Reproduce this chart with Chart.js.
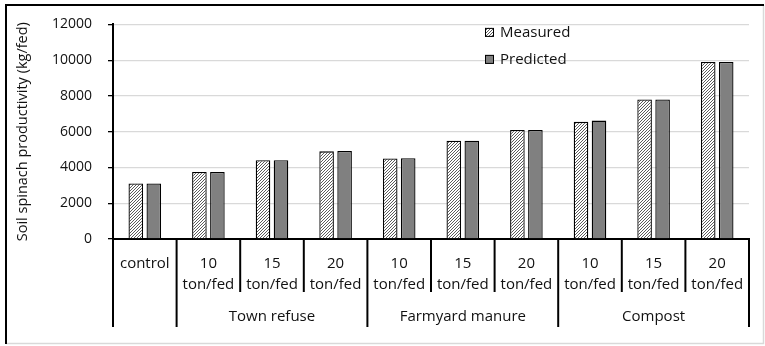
<!DOCTYPE html>
<html><head><meta charset="utf-8">
<script src="https://cdn.jsdelivr.net/npm/chart.js@4"></script>
<style>html,body{margin:0;padding:0;background:#fff;}#wrap{width:765px;height:346px;position:relative;}</style>
</head><body><div id="wrap"><canvas id="c" width="765" height="346"></canvas></div>
<script>
const categories = [['control'],['10','ton/fed'],['15','ton/fed'],['20','ton/fed'],['10','ton/fed'],['15','ton/fed'],['20','ton/fed'],['10','ton/fed'],['15','ton/fed'],['20','ton/fed']];
const groupNames = ['', 'Town refuse', 'Farmyard manure', 'Compost'];
const groupOf = [0,1,1,1,2,2,2,3,3,3];
const measured = [3100,3750,4400,4900,4500,5500,6100,6550,7800,9900];
const predicted = [3100,3750,4400,4920,4520,5500,6100,6620,7800,9900];
const yTicks = [0,2000,4000,6000,8000,10000,12000];
const seriesNames = ['Measured','Predicted'];
const yTitle = 'Soil spinach productivity (kg/fed)';

const FONT = '"Open Sans", "Noto Sans", sans-serif';
const TXT = '#111';

function hatch(){
  const s=3, c=document.createElement('canvas'); c.width=s; c.height=s;
  const x=c.getContext('2d'); x.fillStyle='#fff'; x.fillRect(0,0,s,s);
  x.strokeStyle='#4a4a4a'; x.lineWidth=0.9;
  x.beginPath();
  x.moveTo(0,s); x.lineTo(s,0);
  x.moveTo(-1,1); x.lineTo(1,-1);
  x.moveTo(s-1,s+1); x.lineTo(s+1,s-1);
  x.stroke();
  return x.createPattern(c,'repeat');
}
const pat = hatch();

const frame = {id:'frame', beforeDraw(chart){
  const c=chart.ctx; c.save();
  c.fillStyle='#fff'; c.fillRect(0,0,chart.width,chart.height);
  c.strokeStyle='#d9d9d9'; c.lineWidth=1.5;
  c.beginPath(); c.moveTo(763.5,5); c.lineTo(763.5,343.5); c.lineTo(6,343.5); c.stroke();
  c.strokeStyle='#000'; c.lineWidth=2;
  c.beginPath(); c.moveTo(6,344); c.lineTo(6,5); c.lineTo(764,5); c.stroke();
  c.restore();
}};

const decor = {id:'decor', afterDraw(chart){
  const c=chart.ctx, a=chart.chartArea, x=chart.scales.x;
  c.save();
  c.strokeStyle='#000'; c.lineWidth=2;
  const n=categories.length;
  for(let i=0;i<=n;i++){
    const px = i===0 ? x.left : (i===n ? x.right : (x.getPixelForValue(i-1)+x.getPixelForValue(i))/2);
    const major = i===0 || i===n || groupOf[i]!==groupOf[i-1];
    c.beginPath(); c.moveTo(px,a.bottom); c.lineTo(px,a.bottom+(major?88:53)); c.stroke();
  }
  c.font='15px '+FONT; c.fillStyle=TXT; c.textAlign='center'; c.textBaseline='middle';
  groupNames.forEach((g,gi)=>{
    if(!g) return;
    const idx=groupOf.map((v,i)=>v===gi?i:-1).filter(i=>i>=0);
    const cx=(x.getPixelForValue(idx[0])+x.getPixelForValue(idx[idx.length-1]))/2;
    c.fillText(g,cx,a.bottom+78);
  });
  // legend
  const lx=a.right-264, ly=[a.top+8, a.top+35];
  const fills=[pat,'#808080'];
  c.textAlign='left'; c.lineWidth=1;
  seriesNames.forEach((s,i)=>{
    c.fillStyle=fills[i]; c.fillRect(lx,ly[i]-4.5,9,9);
    c.strokeStyle='#000'; c.strokeRect(lx+0.5,ly[i]-4,8,8);
    c.fillStyle=TXT; c.fillText(s,lx+15,ly[i]);
  });
  c.restore();
}};

new Chart(document.getElementById('c'), {
  type:'bar',
  data:{labels:categories, datasets:[
    {label:seriesNames[0], data:measured, backgroundColor:pat, borderColor:'#000', borderWidth:1.3, categoryPercentage:0.566, barPercentage:0.81},
    {label:seriesNames[1], data:predicted, backgroundColor:'#808080', borderColor:'#000', borderWidth:1.3, categoryPercentage:0.566, barPercentage:0.81}
  ]},
  options:{
    responsive:false, animation:false, devicePixelRatio:1,
    layout:{padding:{left:0, top:24, right:16, bottom:0}},
    plugins:{legend:{display:false}, tooltip:{enabled:false}},
    scales:{
      x:{
        grid:{display:false},
        border:{display:true, color:'#000', width:2},
        ticks:{font:{family:FONT, size:15, lineHeight:1.4}, color:TXT, padding:6, maxRotation:0, minRotation:0, autoSkip:false},
        afterFit(s){ s.height=107; }
      },
      y:{
        min:0, max:12000,
        afterBuildTicks(s){ s.ticks=yTicks.map(v=>({value:v})); },
        grid:{color:'#d9d9d9', lineWidth:1.3, tickColor:'#000', tickLength:5, drawTicks:true},
        border:{color:'#000', width:2},
        ticks:{font:{family:FONT, size:14}, color:TXT, padding:16, callback:(v)=>String(v)},
        title:{display:true, text:yTitle, font:{family:FONT, size:14.5}, color:TXT, padding:{top:14, bottom:0}},
        afterFit(s){ s.width=113; }
      }
    }
  },
  plugins:[frame, decor]
});
</script></body></html>
